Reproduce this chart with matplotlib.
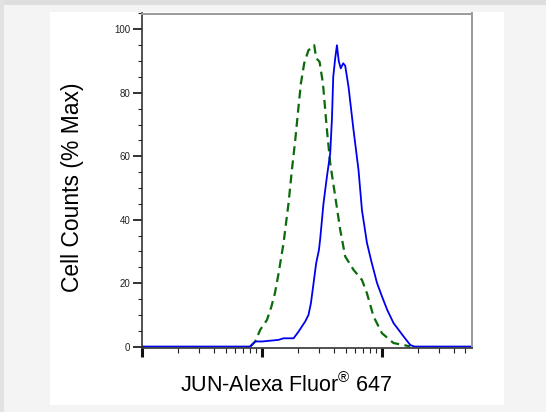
import numpy as np
import matplotlib
matplotlib.use('Agg')
import matplotlib.pyplot as plt
from matplotlib.patches import Rectangle
from matplotlib.ticker import MultipleLocator, LogLocator, NullFormatter

plt.rcParams['font.family'] = ['Liberation Sans', 'DejaVu Sans']
plt.rcParams['mathtext.fontset'] = 'custom'
plt.rcParams['mathtext.rm'] = 'Liberation Sans'

# Stained sample (blue, solid)
jun_x = [100, 800, 881, 1007, 1377, 1517, 1841, 2025, 2301, 2453, 2570, 2703,
         2843, 2998, 3071, 3273, 3495, 3723, 3850, 3945, 4100, 4236, 4385,
         4558, 4778, 4966, 5292, 5823, 6410, 6852, 7540, 8190, 9138, 10065,
         11150, 12570, 15230, 17330, 18700, 56230]
jun_y = [0, 0, 1.6, 1.6, 2.1, 2.6, 2.6, 4.7, 7.9, 10, 13.7, 20,
         26.3, 30.5, 34, 45.2, 53.6, 61, 72, 85, 91, 95, 90,
         87.7, 89.3, 88.5, 81.9, 68.3, 55.7, 43, 32.7, 27, 20.1, 15.8,
         11.5, 7.4, 3.2, 0.5, 0, 0]

# Control (green, dashed)
ctrl_x = [800, 881, 970, 1104, 1202, 1286, 1379, 1518, 1671, 1783, 1901, 2025,
          2120, 2258, 2454, 2620, 2738, 2843, 3032, 3236, 3495, 3723, 4100,
          4511, 4966, 5823, 6852, 7540, 8555, 10065, 12570, 15230, 17330]
ctrl_y = [0, 1.6, 5.3, 8.4, 12.6, 16.8, 23, 32.6, 45.2, 55.7, 65.1, 75.7,
          83, 89.3, 93.5, 94, 95, 90.9, 89.8, 83, 68.3, 57.8, 47.3,
          36.8, 28.4, 24.2, 21, 16.8, 9.5, 4.2, 1.1, 0.5, 0]

W, H = 546, 412
fig = plt.figure(figsize=(W / 100, H / 100), dpi=100)
fig.patch.set_facecolor('#f4f4f4')

# page frame: darker strips at top/left, white card in the middle
fig.patches.append(Rectangle((0, 1 - 4.5 / H), 1, 4.5 / H, transform=fig.transFigure,
                             facecolor='#dedede', edgecolor='none', zorder=-2))
fig.patches.append(Rectangle((0, 0), 4 / W, 1, transform=fig.transFigure,
                             facecolor='#e2e2e2', edgecolor='none', zorder=-2))
fig.patches.append(Rectangle((50 / W, 1 - 405 / H), 454 / W, 393 / H, transform=fig.transFigure,
                             facecolor='white', edgecolor='none', zorder=-1))

ax = fig.add_axes([142 / W, 1 - 347.5 / H, 329.5 / W, 334 / H])
ax.set_zorder(2)
ax.set_facecolor('white')

ax.plot(ctrl_x, ctrl_y, color='#0b6a0b', lw=1.6, dashes=(4, 2.4))
ax.plot(jun_x, jun_y, color='#0000ee', lw=1.3)

ax.set_xscale('log')
ax.set_xlim(1e2, 10 ** 4.75)
ax.set_ylim(-0.3, 105)

ax.yaxis.set_major_locator(MultipleLocator(20))
ax.yaxis.set_minor_locator(MultipleLocator(5))
ax.xaxis.set_major_locator(LogLocator(base=10))
ax.xaxis.set_minor_locator(LogLocator(base=10, subs=np.arange(2, 10)))
ax.xaxis.set_major_formatter(NullFormatter())
ax.xaxis.set_minor_formatter(NullFormatter())

ax.tick_params(axis='y', which='major', length=6.5, width=1.3, labelsize=7,
               pad=2, colors='#222222')
ax.tick_params(axis='y', which='minor', length=3, width=0.8, color='#222222')
ax.tick_params(axis='x', which='major', length=6.5, width=2.2, color='#111111')
ax.tick_params(axis='x', which='minor', length=3.5, width=0.8, color='#222222')

for s in ['left', 'bottom']:
    ax.spines[s].set_color('#333333')
    ax.spines[s].set_linewidth(1.2)
for s in ['top', 'right']:
    ax.spines[s].set_color('#9a9a9a')
    ax.spines[s].set_linewidth(1.4)

fig.text(73 / W, 1 - 187.5 / H, 'Cell Counts (% Max)', rotation=90,
         ha='center', va='center', fontsize=16.5)
fig.text(286 / W, 1 - 385 / H, 'JUN-Alexa Fluor$^{\\mathrm{®}}$ 647',
         ha='center', va='center', fontsize=15.5)

fig.savefig('out.png', dpi=100, facecolor=fig.get_facecolor())
